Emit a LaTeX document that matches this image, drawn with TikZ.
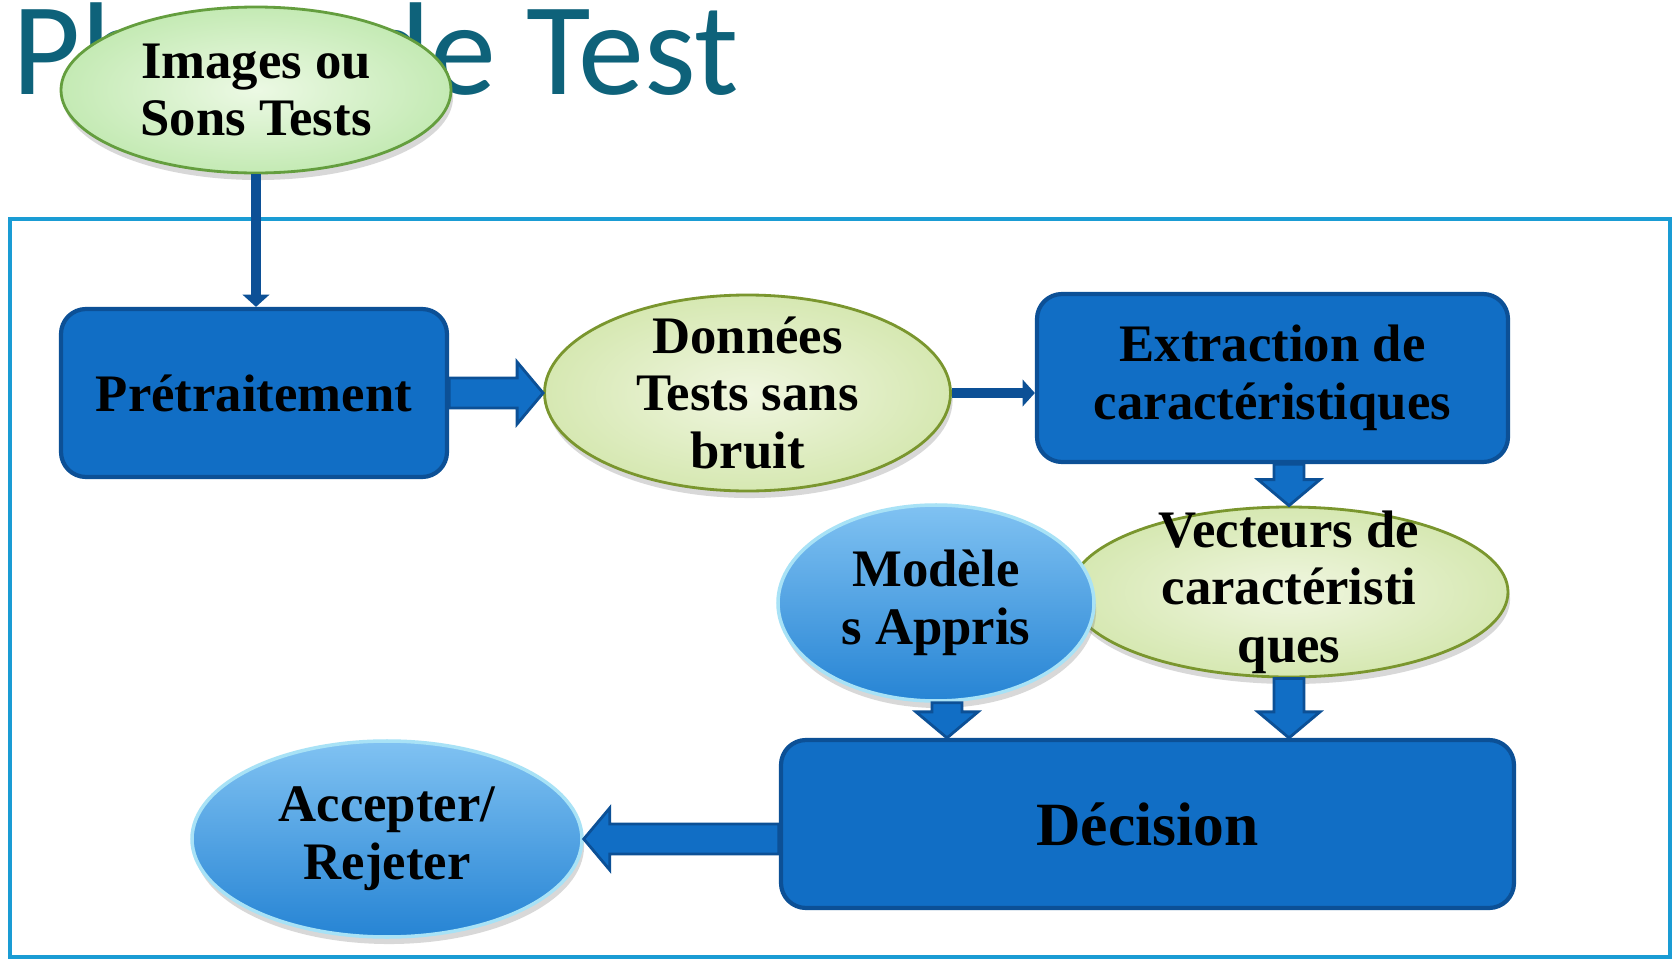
\documentclass[tikz,border=0pt]{standalone}
\usepackage{fontspec}
\setmainfont{Liberation Serif}
\newfontfamily\titlefont{Carlito}
\usepackage{tikz}
\usetikzlibrary{shapes,arrows.meta,positioning,calc,shadows}

\definecolor{titleteal}{RGB}{14,98,122}
\definecolor{framecyan}{RGB}{26,156,212}
\definecolor{boxblue}{RGB}{17,110,197}
\definecolor{boxedge}{RGB}{12,80,150}
\definecolor{leafin}{RGB}{236,249,228}
\definecolor{leafout}{RGB}{196,234,180}
\definecolor{leafedge}{RGB}{100,158,62}
\definecolor{limein}{RGB}{240,246,224}
\definecolor{limeout}{RGB}{214,232,178}
\definecolor{limeedge}{RGB}{122,150,46}
\definecolor{skytop}{RGB}{128,194,242}
\definecolor{skybot}{RGB}{38,132,212}
\definecolor{skyedge}{RGB}{168,226,246}

\tikzstyle{txt} = [align=center, inner sep=0pt, font=\fontsize{15}{16.4}\selectfont\bfseries]
\tikzstyle{block} = [rectangle, draw=boxedge, fill=boxblue, line width=1.2pt, rounded corners=0.25cm, minimum height=1.68cm, txt]
\tikzstyle{ellshadow} = [drop shadow={shadow xshift=0.6pt, shadow yshift=-2pt, opacity=0.3}]
\tikzstyle{greenA} = [ellipse, draw=leafedge, line width=0.8pt, inner color=leafin, outer color=leafout, ellshadow]
\tikzstyle{greenB} = [ellipse, draw=limeedge, line width=0.8pt, inner color=limein, outer color=limeout, ellshadow]
\tikzstyle{blueell} = [ellipse, draw=skyedge, line width=1pt, top color=skytop, bottom color=skybot, ellshadow]
\tikzstyle{line} = [draw=boxedge, line width=2.8pt, -{Triangle[length=3.5pt,width=7.5pt]}]
\tikzstyle{fat} = [draw=boxedge, fill=boxblue, line width=0.8pt, line join=miter,
    to path={let \p1=(\tikztostart), \p2=(\tikztotarget),
      \n1={atan2(\y2-\y1,\x2-\x1)}, \n2={veclen(\x2-\x1,\y2-\y1)} in
      [shift={(\p1)}, rotate=\n1]
      (0cm,-0.15cm) -- ({\n2*1pt-0.26cm},-0.15cm) -- ({\n2*1pt-0.26cm},-0.31cm)
      -- ({\n2*1pt},0cm) -- ({\n2*1pt-0.26cm},0.31cm) -- ({\n2*1pt-0.26cm},0.15cm)
      -- (0cm,0.15cm) -- cycle}]

\begin{document}
\begin{tikzpicture}
    \useasboundingbox (0,0) rectangle (16.73,9.6);
    \fill[white] (0,0) rectangle (16.73,9.6);

    % title, partly hidden
    \node [anchor=base west, inner sep=0pt, text=titleteal, font=\titlefont\fontsize{37.6}{40}\selectfont] (title) at (0.12,8.66) {Phase de Test};
    \draw [framecyan, line width=1pt] (0.10,0.03) rectangle (16.70,7.41);

    \node [greenA, minimum width=3.90cm, minimum height=1.66cm] (img) at (2.56,8.70) {};
    \node [txt] (imgt) at (img) {Images ou\\Sons Tests};

    \node [block, minimum width=3.86cm] (pre) at (2.54,5.67) {Prétraitement};
    \node [greenB, minimum width=4.06cm, minimum height=1.96cm, right=0.94cm of pre] (don) {};
    \node [txt] (dont) at (don) {Données\\Tests sans\\bruit};
    \node [block, minimum width=4.71cm] (ext) at (12.725,5.82) {Extraction de\\caractéristiques};

    \node [greenB, minimum width=4.38cm, minimum height=1.70cm] (vec) at (12.89,3.68) {};
    \node [txt] (vect) at (vec) {Vecteurs de\\caractéristi\\ques};
    \node [blueell, minimum width=3.16cm, minimum height=1.96cm] (mod) at (9.36,3.57) {};
    \node [txt] (modt) at (mod) {Modèle\\s Appris};

    \node [block, minimum width=7.33cm, font=\fontsize{17.5}{20}\selectfont\bfseries] (dec) at (11.475,1.36) {Décision};
    \node [blueell, minimum width=3.90cm, minimum height=1.96cm] (acc) at (3.87,1.21) {};
    \node [txt] (acct) at (acc) {Accepter/\\Rejeter};

    \path [line] (img.south) -- (img.south |- pre.north);
    \path [line] (don.east) -- (don.east -| ext.west);
    \draw [fat] (pre.east) to (don.west);
    \draw [fat] (vec.north |- ext.south) to (vec.north);
    \draw [fat] ([xshift=0.11cm]mod.south) to ([xshift=0.11cm]mod.south |- dec.north);
    \draw [fat] (vec.south) to (vec.south |- dec.north);
    \draw [fat] (dec.west |- acc.east) to (acc.east);
\end{tikzpicture}
\end{document}
